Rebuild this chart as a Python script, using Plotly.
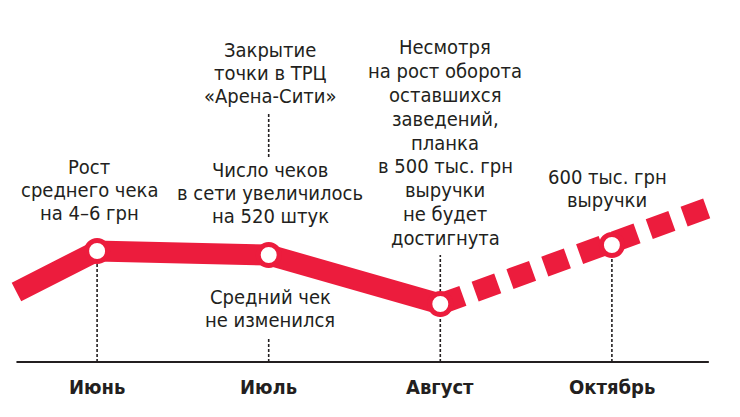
import plotly.graph_objects as go

# --- data -------------------------------------------------------------
months = ["Июнь", "Июль", "Август", "Октябрь"]
month_pos = [0, 1, 2, 3]
level = [111, 107, 58, 117]        # trend level at each month
edge_pos = [-0.47, 3.56]           # where the trend line enters / leaves
edge_level = [70, 154]

notes_june = ["Рост", "среднего чека", "на 4–6 грн"]
notes_july_top = ["Закрытие", "точки в ТРЦ", "«Арена-Сити»"]
notes_july_mid = ["Число чеков", "в сети увеличилось", "на 520 штук"]
notes_july_low = ["Средний чек", "не изменился"]
notes_august = ["Несмотря", "на рост оборота", "оставшихся", "заведений,",
                "планка", "в 500 тыс. грн", "выручки", "не будет", "достигнута"]
notes_october = ["600 тыс. грн", "выручки"]

# --- styling ----------------------------------------------------------
W, H = 740, 417
RED = "#EC1C3D"
INK = "#231F20"
FONT = "DejaVu Sans Condensed, Liberation Sans Narrow, Liberation Sans, sans-serif"

# solid part: lead-in through August; dashed part: August onward
solid_x = [edge_pos[0]] + month_pos[:3]
solid_y = [edge_level[0]] + level[:3]
dash_x = month_pos[2:] + [edge_pos[1]]
dash_y = level[2:] + [edge_level[1]]

fig = go.Figure()

fig.add_trace(go.Scatter(
    x=solid_x, y=solid_y, mode="lines",
    line=dict(color=RED, width=21), hoverinfo="skip"))
fig.add_trace(go.Scatter(
    x=dash_x, y=dash_y, mode="lines",
    line=dict(color=RED, width=21, dash="24px,13px"), hoverinfo="skip"))
fig.add_trace(go.Scatter(
    x=month_pos, y=level, mode="markers",
    marker=dict(size=21, color="white", line=dict(color=RED, width=5)),
    hoverinfo="skip"))

shapes = []
# baseline
shapes.append(dict(type="line", xref="x", yref="y",
                   x0=edge_pos[0], x1=edge_pos[1] + 0.005, y0=0, y1=0,
                   line=dict(color=INK, width=2), layer="below"))

# dotted guides: (month index, top, bottom)
guides = [
    (0, level[0], 0),
    (1, 25, 0),
    (1, 249, 205),
    (2, 107, 0),
    (3, level[3], 0),
]
for i, top, bottom in guides:
    shapes.append(dict(type="line", xref="x", yref="y",
                       x0=month_pos[i], x1=month_pos[i], y0=bottom, y1=top,
                       line=dict(color=INK, width=1.6, dash="3px,2px"),
                       layer="below"))


def px(x):
    return x / W


def py(y):
    return 1 - y / H


annotations = []


def text_block(lines, cx, y0, step, size=20):
    for k, line in enumerate(lines):
        annotations.append(dict(
            text=line, xref="paper", yref="paper",
            x=px(cx), y=py(y0 + k * step),
            xanchor="center", yanchor="middle", showarrow=False,
            font=dict(family=FONT, size=size, color=INK)))


text_block(notes_june, 89, 167, 23)
text_block(notes_july_top, 270, 50, 23)
text_block(notes_july_mid, 270, 170, 23)
text_block(notes_july_low, 270, 297, 23)
text_block(notes_august, 445, 47, 23.9)
text_block(notes_october, 607, 177, 23)

# month labels under the baseline
for m, xpos in zip(months, month_pos):
    annotations.append(dict(
        text="<b>" + m + "</b>", xref="x", yref="paper",
        x=xpos, y=py(387), xanchor="center", yanchor="middle",
        showarrow=False,
        font=dict(family=FONT, size=20, color=INK)))

# axis ranges put month 0..3 at the chart columns and level 0 on the baseline
x0_px, step_px = 97.1, 171.6
base_px = 362

fig.update_layout(
    width=W, height=H,
    margin=dict(l=0, r=0, t=0, b=0),
    paper_bgcolor="white", plot_bgcolor="white",
    showlegend=False,
    xaxis=dict(range=[-x0_px / step_px, (W - x0_px) / step_px],
               visible=False, fixedrange=True),
    yaxis=dict(range=[base_px - H, base_px], visible=False, fixedrange=True),
    shapes=shapes,
    annotations=annotations,
)

fig.write_html("out.html")
